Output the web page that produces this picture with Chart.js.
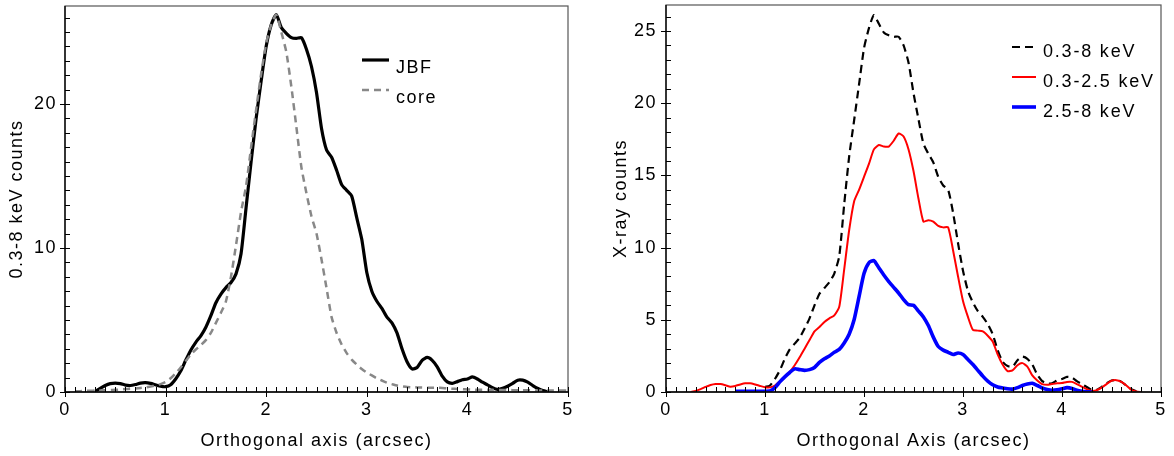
<!DOCTYPE html>
<html><head><meta charset="utf-8">
<script src="https://cdn.jsdelivr.net/npm/chart.js@4.4.1/dist/chart.umd.min.js"></script>
<style>
html,body{margin:0;padding:0;background:#fff;width:1174px;height:456px;overflow:hidden}
canvas{position:absolute;top:0}
#left{left:0}
#right{left:587px}
</style></head><body>
<canvas id="left" width="587" height="456"></canvas>
<canvas id="right" width="587" height="456"></canvas>
<script>
// ---- data ----
const arcsec = [0.00,0.05,0.10,0.15,0.20,0.25,0.30,0.35,0.40,0.45,0.50,0.55,0.60,0.65,0.70,0.75,0.80,0.85,0.90,0.95,
1.00,1.05,1.10,1.15,1.20,1.25,1.30,1.35,1.40,1.45,1.50,1.55,1.60,1.65,1.70,1.75,1.80,1.85,1.90,1.95,
2.00,2.05,2.10,2.15,2.20,2.25,2.30,2.35,2.40,2.45,2.50,2.55,2.60,2.65,2.70,2.75,2.80,2.85,2.90,2.95,
3.00,3.05,3.10,3.15,3.20,3.25,3.30,3.35,3.40,3.45,3.50,3.55,3.60,3.65,3.70,3.75,3.80,3.85,3.90,3.95,
4.00,4.05,4.10,4.15,4.20,4.25,4.30,4.35,4.40,4.45,4.50,4.55,4.60,4.65,4.70,4.75,4.80,4.85,4.90,4.95,5.00];

// left panel
const jbfCounts = [null,null,null,null,null,null,0.05,0.25,0.45,0.58,0.62,0.58,0.48,0.45,0.52,0.62,0.65,0.60,0.50,0.40,
0.37,0.50,0.90,1.45,2.2,2.9,3.45,3.9,4.5,5.3,6.2,6.8,7.25,7.6,8.2,9.6,12.8,16.0,19.0,21.6,
24.0,25.5,26.2,25.3,24.9,24.6,24.55,24.6,23.8,22.6,20.8,18.3,16.8,16.3,15.4,14.4,14.0,13.6,12.1,10.6,
8.3,7.0,6.3,5.8,5.2,4.8,4.1,3.0,2.1,1.6,1.7,2.2,2.4,2.2,1.75,1.1,0.7,0.6,0.72,0.85,
0.9,1.05,0.9,0.68,0.5,0.3,0.18,0.25,0.4,0.6,0.82,0.82,0.68,0.45,0.25,0.1,0.02,null,null,null,null];
const coreCounts = [null,null,0.05,0.06,0.08,0.09,0.10,0.11,0.12,0.13,0.15,0.17,0.20,0.22,0.25,0.28,0.32,0.38,0.45,0.55,
0.7,0.95,1.3,1.7,2.15,2.6,2.95,3.25,3.6,4.1,4.8,5.5,6.3,8.0,10.2,12.5,14.3,17.0,19.6,22.1,
24.2,25.5,26.2,25.0,23.6,21.2,18.4,15.6,13.8,12.2,11.0,9.2,7.2,5.2,4.1,3.3,2.7,2.25,1.9,1.6,
1.35,1.15,0.95,0.8,0.65,0.55,0.45,0.40,0.35,0.33,0.32,0.31,0.30,0.30,0.30,0.28,0.25,0.23,0.21,0.20,
0.18,0.17,0.16,0.16,0.15,0.15,0.14,0.14,0.13,0.13,0.12,0.12,0.12,0.11,0.11,0.11,0.10,0.10,0.10,0.10,0.10];

// right panel
const band03to8 = [null,null,null,null,null,null,null,null,null,null,null,null,null,null,null,null,null,null,null,null,
0.35,0.45,0.9,1.5,2.3,2.95,3.35,3.75,4.4,5.1,6.0,6.8,7.2,7.6,8.2,9.4,13.0,16.3,18.8,21.3,
23.8,25.2,26.1,25.5,24.9,24.7,24.6,24.6,24.0,22.8,20.7,18.9,17.2,16.5,15.9,14.9,14.3,14.0,12.4,10.3,
8.4,7.0,6.2,5.6,5.2,4.7,4.0,2.9,2.1,1.8,1.75,2.2,2.45,2.3,1.9,1.2,0.75,0.6,0.6,0.8,
0.9,1.05,1.0,0.75,0.55,0.35,0.15,0.15,0.35,0.6,0.8,0.83,0.7,0.45,0.2,0.05,null,null,null,null,null];
const band03to25 = [null,null,null,null,null,0.0,0.08,0.2,0.35,0.48,0.55,0.55,0.47,0.37,0.42,0.52,0.6,0.6,0.52,0.42,
0.33,0.32,0.45,0.75,1.05,1.4,1.85,2.4,3.0,3.6,4.2,4.5,4.85,5.1,5.3,5.9,8.5,11.2,13.2,14.0,
14.9,15.8,16.8,17.1,17.0,17.0,17.4,17.9,17.7,16.8,15.3,13.4,11.8,11.9,11.8,11.5,11.4,11.4,9.8,8.0,
6.3,5.2,4.3,4.25,4.2,3.9,3.5,2.6,1.9,1.45,1.5,1.85,2.0,1.75,1.15,0.8,0.55,0.5,0.55,0.6,
0.62,0.7,0.7,0.55,0.37,0.2,0.08,0.12,0.3,0.55,0.78,0.82,0.7,0.45,0.15,0.03,0.0,null,null,null,null];
const band25to8 = [null,null,null,null,null,null,null,null,null,null,null,null,null,null,0.05,0.05,0.05,0.05,0.05,0.05,
0.05,0.07,0.3,0.7,1.05,1.35,1.6,1.55,1.5,1.55,1.7,2.05,2.3,2.5,2.75,2.95,3.4,4.0,5.0,6.6,
8.2,8.95,9.1,8.6,8.1,7.65,7.25,6.85,6.4,6.05,6.0,5.6,5.2,4.6,3.8,3.15,2.9,2.75,2.6,2.7,
2.6,2.25,1.9,1.5,1.1,0.75,0.5,0.35,0.28,0.22,0.2,0.3,0.45,0.55,0.6,0.45,0.28,0.18,0.12,0.15,
0.22,0.3,0.25,0.12,0.05,0.02,0.0,null,null,null,null,null,null,null,null,null,null,null,null,null,null];

const xTickLabels = [0,1,2,3,4,5];
const leftYTicks = [0,10,20];
const rightYTicks = [0,5,10,15,20,25];

// ---- helpers ----
const FONT = "'Liberation Sans', Arial, Helvetica, sans-serif";
function pts(arr){ return arcsec.map((x,i)=>({x:x,y:arr[i]})).filter(p=>p.y!==null); }

const decor = {
  id:'decor',
  beforeDraw(chart){ chart.ctx.letterSpacing = '1.5px'; },
  afterDraw(chart, args, o){
    const ctx = chart.ctx, a = chart.chartArea, xs = chart.scales.x, ys = chart.scales.y;
    ctx.save();
    ctx.letterSpacing = '0px';
    // frame
    ctx.strokeStyle = '#555'; ctx.lineWidth = 1.2;
    ctx.strokeRect(a.left, a.top, a.right - a.left, a.bottom - a.top);
    ctx.strokeStyle = '#000'; ctx.lineWidth = 1.3;
    ctx.beginPath();
    ctx.moveTo(a.left, a.top); ctx.lineTo(a.left, a.bottom); ctx.lineTo(a.right, a.bottom);
    ctx.stroke();
    // ticks
    ctx.lineWidth = 1;
    ctx.beginPath();
    const nx = Math.round((xs.max - xs.min)/o.xMinor);
    for(let i=0;i<=nx;i++){
      const v = xs.min + i*o.xMinor;
      const px = Math.round(xs.getPixelForValue(v)) + 0.5;
      const major = (i % Math.round(o.xMajor/o.xMinor)) === 0;
      ctx.moveTo(px, a.bottom - 5);
      ctx.lineTo(px, a.bottom + (major ? 5 : 0));
    }
    const ny = Math.floor((ys.max - ys.min)/o.yMinor + 1e-6);
    for(let i=0;i<=ny;i++){
      const v = ys.min + i*o.yMinor;
      const py = Math.round(ys.getPixelForValue(v)) + 0.5;
      const major = (i % Math.round(o.yMajor/o.yMinor)) === 0;
      ctx.moveTo(a.left + 5, py);
      ctx.lineTo(a.left - (major ? 5 : 0), py);
    }
    ctx.stroke();
    // legend
    const L = o.legend;
    ctx.letterSpacing = L.spacing;
    ctx.font = L.size + 'px ' + FONT;
    ctx.fillStyle = '#000';
    ctx.textBaseline = 'middle';
    chart.data.datasets.forEach((d, i) => {
      const ty = L.y + i*L.row;
      const ly = ty + L.lineOffset;
      ctx.save();
      ctx.strokeStyle = d.borderColor; ctx.lineWidth = d.borderWidth;
      ctx.setLineDash(d.borderDash || []);
      ctx.beginPath(); ctx.moveTo(L.x, ly); ctx.lineTo(L.x + L.len, ly); ctx.stroke();
      ctx.restore();
      ctx.fillText(d.label, L.x + L.len + L.gap, ty);
    });
    ctx.restore();
  }
};

function keepTicks(list){
  return function(scale){ scale.ticks = scale.ticks.filter(t => list.some(v => Math.abs(v - t.value) < 1e-6)); };
}

function makeChart(id, datasets, c){
  return new Chart(document.getElementById(id), {
    type:'line',
    data:{ datasets: datasets },
    options:{
      responsive:false, animation:false, devicePixelRatio:1,
      layout:{ padding:c.padding },
      plugins:{ legend:{display:false}, tooltip:{enabled:false}, decor:c.decor },
      elements:{ point:{radius:0}, line:{tension:0.2, borderJoinStyle:'round', borderCapStyle:'butt'} },
      scales:{
        x:{ type:'linear', min:0, max:5,
            afterFit: s => { s.height = 64; s.paddingLeft = 0; s.paddingRight = 0; },
            afterBuildTicks: keepTicks(xTickLabels),
            ticks:{ stepSize:1, padding:7, color:'#000', font:{family:FONT, size:18}, maxRotation:0, autoSkip:false },
            grid:{ display:false, drawTicks:false, tickLength:0 }, border:{display:false},
            title:{ display:true, text:c.xTitle, color:'#000', font:{family:FONT, size:18}, padding:{top:4,bottom:4} } },
        y:{ type:'linear', min:0, max:26.8,
            afterFit: s => { s.width = c.yWidth; s.paddingTop = 0; s.paddingBottom = 0; },
            afterBuildTicks: keepTicks(c.yTicks),
            ticks:{ stepSize:c.yStep, padding:c.yPad, color:'#000', font:{family:FONT, size:18} },
            grid:{ display:false, drawTicks:false, tickLength:0 }, border:{display:false},
            title:{ display:true, text:c.yTitle, color:'#000', font:{family:FONT, size:18}, padding:{top:c.yTitlePad,bottom:0} } }
      }
    },
    plugins:[decor]
  });
}

makeChart('left', [
  { label:'JBF', data:pts(jbfCounts), borderColor:'#000', borderWidth:3.2, order:2, fill:false },
  { label:'core', data:pts(coreCounts), borderColor:'#888', borderWidth:2.5, borderDash:[7,5], order:1, fill:false }
], {
  padding:{left:0, right:19, top:6, bottom:0}, yWidth:65, yPad:8, yTitlePad:6, yStep:10, yTicks:leftYTicks,
  xTitle:'Orthogonal axis (arcsec)', yTitle:'0.3-8 keV counts',
  decor:{ xMinor:0.1, xMajor:1, yMinor:1, yMajor:10,
          legend:{ x:362, y:68, row:30, len:27, gap:7, lineOffset:-8, size:18, spacing:'1.5px' } }
});

makeChart('right', [
  { label:'0.3-8 keV', data:pts(band03to8), borderColor:'#000', borderWidth:2.2, borderDash:[8,5], order:3, fill:false },
  { label:'0.3-2.5 keV', data:pts(band03to25), borderColor:'#ff0000', borderWidth:2, order:2, fill:false },
  { label:'2.5-8 keV', data:pts(band25to8), borderColor:'#0000ff', borderWidth:3.6, order:1, fill:false }
], {
  padding:{left:0, right:13, top:5, bottom:0}, yWidth:79, yPad:9, yTitlePad:23, yStep:5, yTicks:rightYTicks,
  xTitle:'Orthogonal Axis (arcsec)', yTitle:'X-ray counts',
  decor:{ xMinor:0.1, xMajor:1, yMinor:1, yMajor:5,
          legend:{ x:425, y:52, row:30, len:24, gap:7, lineOffset:-5, size:18, spacing:'1.8px' } }
});
</script>
</body></html>
